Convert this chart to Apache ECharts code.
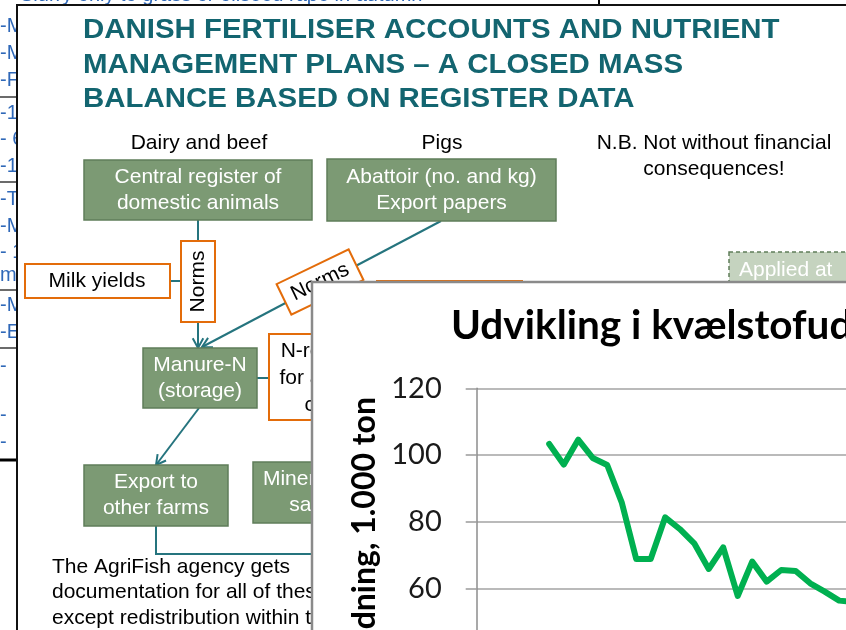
<!DOCTYPE html>
<html>
<head>
<meta charset="utf-8">
<script src="https://cdn.jsdelivr.net/npm/echarts@6.0.0/dist/echarts.min.js"></script>
<style>
  html, body { margin: 0; padding: 0; background: #fff; }
  #chart { width: 846px; height: 630px; }
</style>
</head>
<body>
<div id="chart"></div>
<script>
// chart data
const years = ['1985', '1986', '1987', '1988', '1989', '1990', '1991', '1992', '1993', '1994',
  '1995', '1996', '1997', '1998', '1999', '2000', '2001', '2002', '2003', '2004',
  '2005', '2006', '2007', '2008', '2009', '2010', '2011', '2012']
const udledning = [null, null, null, null, null, 103.3, 97.1, 104.6, 99.1, 97,
  85.8, 68.8, 68.8, 81.3, 77.8, 73.5, 65.8, 72.3, 57.7, 68,
  62, 65.5, 65.2, 61.5, 59, 56.3, 55.9, 56.2]
const yTicks = [0, 20, 40, 60, 80, 100, 120]

const SANS = "'Liberation Sans', Arial, sans-serif"
const LATO = "Lato, 'Open Sans', sans-serif"
const TEAL = '#25747e'
const ORANGE = '#e36c0a'
const GREEN = '#7c9a74'
const GREEN_EDGE = '#5f7d59'
const BLUE = '#2f68b8'

function txt(s, x, y, size, opts) {
  opts = opts || {}
  return {
    type: 'text',
    x: x,
    y: y,
    z: opts.z || 4,
    rotation: opts.rotation || 0,
    scaleX: opts.scaleX || 1,
    style: {
      text: s,
      font: (opts.bold ? 'bold ' : '') + size + 'px ' + (opts.family || SANS),
      fill: opts.color || '#000',
      textAlign: opts.align || 'left',
      textVerticalAlign: 'middle'
    }
  }
}

function box(x, y, w, h, fill, stroke, lw, z, dash) {
  return {
    type: 'rect',
    z: z || 3,
    shape: { x: x, y: y, width: w, height: h },
    style: { fill: fill, stroke: stroke, lineWidth: lw || 1, lineDash: dash || null }
  }
}

function seg(points, color, lw, z) {
  return {
    type: 'polyline',
    z: z || 3,
    shape: { points: points },
    style: { stroke: color || TEAL, lineWidth: lw || 2, fill: null }
  }
}

// line with an open arrow head at the end
function arrow(x1, y1, x2, y2) {
  const a = Math.atan2(y2 - y1, x2 - x1)
  const len = 11
  const p1 = [x2 - len * Math.cos(a - 0.5), y2 - len * Math.sin(a - 0.5)]
  const p2 = [x2 - len * Math.cos(a + 0.5), y2 - len * Math.sin(a + 0.5)]
  return [seg([[x1, y1], [x2, y2]]), seg([p1, [x2, y2], p2])]
}

// green register box with white text lines
function greenBox(x, y, w, h, lines) {
  const out = [box(x, y, w, h, GREEN, GREEN_EDGE, 1.5, 4)]
  const cx = x + w / 2
  const step = 26
  const y0 = y + h / 2 - (lines.length - 1) * step / 2
  lines.forEach((l, i) => out.push(txt(l, cx, y0 + i * step, 21, { color: '#fff', align: 'center', z: 5 })))
  return out
}

// background document strip on the left edge
const stripRows = [['-M', 26], ['-M', 53], ['-F', 80], ['-10', 113], ['- 6', 139], ['-15', 166],
  ['-Ta', 199], ['-M', 226], ['- 1', 252], ['ma', 275], ['-M', 305], ['-E', 332],
  ['-', 366], ['-', 415], ['-', 442]]

const graphics = []
graphics.push(txt('Slurry only to grass or oilseed rape in autumn', 20, -5, 20, { color: BLUE, z: 1 }))
stripRows.forEach(r => graphics.push(txt(r[0], 0, r[1], 20, { color: BLUE, z: 1 })))
;[97, 182, 290, 348].forEach(y => graphics.push(seg([[0, y], [17, y]], '#6b6b6b', 2, 1)))
graphics.push(seg([[0, 460], [17, 460]], '#000', 3, 1))
graphics.push(seg([[599, 0], [599, 5]], '#000', 2, 1))

// slide
graphics.push(box(17, 5, 900, 700, '#fff', '#111', 2, 2))
graphics.push(txt('DANISH FERTILISER ACCOUNTS AND NUTRIENT', 83, 31, 27, { bold: true, color: '#136570', scaleX: 1.09 }))
graphics.push(txt('MANAGEMENT PLANS – A CLOSED MASS', 83, 66, 27, { bold: true, color: '#136570', scaleX: 1.09 }))
graphics.push(txt('BALANCE BASED ON REGISTER DATA', 83, 100, 27, { bold: true, color: '#136570', scaleX: 1.09 }))
graphics.push(txt('Dairy and beef', 199, 143, 21, { align: 'center' }))
graphics.push(txt('Pigs', 442, 143, 21, { align: 'center' }))
graphics.push(txt('N.B. Not without financial', 714, 143, 21, { align: 'center' }))
graphics.push(txt('consequences!', 714, 169, 21, { align: 'center' }))

// connectors
graphics.push(seg([[198, 220], [198, 241]]))
graphics.push(seg([[170, 281], [181, 281]]))
graphics.push(...arrow(198, 322, 198, 348))
graphics.push(...arrow(441, 221, 202, 347))
graphics.push(seg([[257, 378], [269, 378]]))
graphics.push(...arrow(199, 408, 156, 465))
graphics.push(seg([[156, 526], [156, 554], [330, 554]]))

graphics.push(...greenBox(84, 160, 228, 60, ['Central register of', 'domestic animals']))
graphics.push(...greenBox(327, 159, 229, 62, ['Abattoir (no. and kg)', 'Export papers']))
graphics.push(...greenBox(143, 348, 114, 60, ['Manure-N', '(storage)']))
graphics.push(...greenBox(84, 465, 144, 61, ['Export to', 'other farms']))
graphics.push(...greenBox(253, 462, 168, 61, ['Mineral fertiliser', 'sales data']))

graphics.push(box(25, 264, 145, 34, '#fff', ORANGE, 2, 4))
graphics.push(txt('Milk yields', 97, 281, 21, { align: 'center', z: 5 }))

graphics.push(box(269, 334, 168, 86, '#fff', ORANGE, 2, 4))
graphics.push(txt('N-requirements', 353, 351, 21, { align: 'center', z: 5 }))
graphics.push(txt('for all fields and', 353, 378, 21, { align: 'center', z: 5 }))
graphics.push(txt('crop types', 353, 405, 21, { align: 'center', z: 5 }))

graphics.push(box(377, 281, 145, 60, '#fff', ORANGE, 2, 4))

graphics.push(box(729, 252, 130, 40, '#c5d3bf', GREEN_EDGE, 1.5, 4, [4, 3]))
graphics.push(txt('Applied at', 739, 270, 21, { color: '#fff', z: 5 }))

// vertical norms box
graphics.push({
  type: 'group', x: 198, y: 281.5, rotation: Math.PI / 2,
  children: [
    { type: 'rect', z: 4, shape: { x: -40.5, y: -17, width: 81, height: 34 }, style: { fill: '#fff', stroke: ORANGE, lineWidth: 2 } },
    { type: 'text', z: 5, style: { text: 'Norms', font: '21px ' + SANS, fill: '#000', textAlign: 'center', textVerticalAlign: 'middle' } }
  ]
})
// slanted norms box on the pig line
graphics.push({
  type: 'group', x: 320, y: 282, rotation: 0.45,
  children: [
    { type: 'rect', z: 4, shape: { x: -40, y: -17, width: 80, height: 34 }, style: { fill: '#fff', stroke: ORANGE, lineWidth: 2 } },
    { type: 'text', z: 5, style: { text: 'Norms', font: '21px ' + SANS, fill: '#000', textAlign: 'center', textVerticalAlign: 'middle' } }
  ]
})

graphics.push(txt('The AgriFish agency gets', 52, 567, 21))
graphics.push(txt('documentation for all of these', 52, 592, 21))
graphics.push(txt('except redistribution within the', 52, 618, 21))

// chart panel on top of the slide
graphics.push(box(312, 282, 620, 420, '#fff', '#8a8a8a', 2.5, 10))
graphics.push(txt('Kvælstofudledning, 1.000 ton', 365, 397, 32, { bold: true, family: LATO, align: 'right', rotation: Math.PI / 2, z: 12 }))

const chart = echarts.init(document.getElementById('chart'))
chart.setOption({
  animation: false,
  title: {
    text: 'Udvikling i kvælstofudledning',
    left: 451,
    top: 305,
    padding: 0,
    z: 25,
    textStyle: { fontFamily: LATO, fontWeight: 'bold', fontSize: 40.5, color: '#000' }
  },
  graphic: { elements: graphics },
  grid: {
    left: 476.7,
    top: 388.3,
    width: 14.5 * (years.length - 1),
    height: 400,
    outerBoundsMode: 'none',
    containLabel: false
  },
  xAxis: {
    type: 'category',
    data: years,
    boundaryGap: false,
    z: 20,
    axisLine: { lineStyle: { color: '#8c8c8c', width: 1.5 } },
    axisTick: { show: false },
    axisLabel: { show: false }
  },
  yAxis: {
    type: 'value',
    min: yTicks[0],
    max: yTicks[yTicks.length - 1],
    interval: 20,
    z: 20,
    axisLine: { show: true, lineStyle: { color: '#8c8c8c', width: 1.5 } },
    axisTick: { show: true, length: 11, lineStyle: { color: '#9a9a9a', width: 1.5 } },
    axisLabel: { fontFamily: LATO, fontSize: 29, color: '#1a1a1a', margin: 35 },
    splitLine: { lineStyle: { color: '#a3a3a3', width: 1.5 } }
  },
  series: [
    {
      type: 'line',
      data: udledning,
      z: 30,
      symbol: 'none',
      lineStyle: { color: '#00b050', width: 6, join: 'round', cap: 'round' }
    }
  ]
})
</script>
</body>
</html>
